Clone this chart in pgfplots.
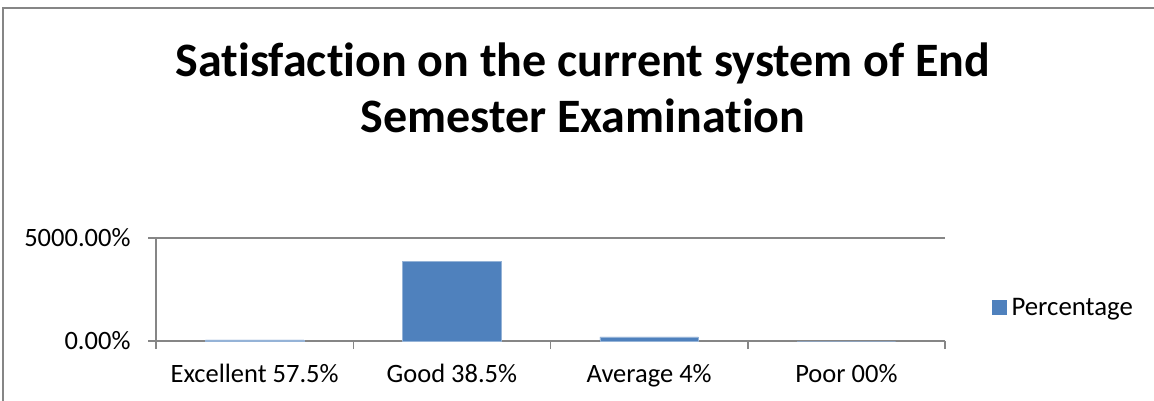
\documentclass[border=0pt]{standalone}
\usepackage{pgfplots}
\pgfplotsset{compat=1.18}
\usepackage{fontspec}
\setmainfont{Carlito}[Ligatures=NoCommon]
\definecolor{barblue}{RGB}{79,129,189}
\definecolor{axgray}{RGB}{134,134,134}
\begin{document}
\begin{tikzpicture}[x=1bp,y=1bp]
\useasboundingbox (0,0) rectangle (1154,400);
\draw[axgray,line width=1.5bp] (3,-10) -- (3,392) -- (1170,392);
\node[anchor=base,inner sep=0pt,font=\fontsize{48bp}{54bp}\selectfont\bfseries] at (583,324) {Satisfaction on the current system of End};
\node[anchor=base,inner sep=0pt,font=\fontsize{48bp}{54bp}\selectfont\bfseries] at (583,268) {Semester Examination};
\begin{axis}[
  at={(156bp,59bp)}, anchor=south west,
  scale only axis, width=789bp, height=103bp,
  xmin=-0.5, xmax=3.5, ymin=0, ymax=5000,
  axis x line=bottom, axis y line=left,
  axis line style={-, axgray, line width=1.5bp},
  tick align=outside, major tick length=8bp,
  every tick/.style={axgray, line width=1.5bp},
  xtick={-0.5,0.5,1.5,2.5,3.5}, xticklabels={},
  extra x ticks={0,1,2,3},
  extra x tick labels={Excellent 57.5\%,Good 38.5\%,Average 4\%,Poor 00\%},
  extra x tick style={major tick length=0pt, grid=none,
     xticklabel style={anchor=base, yshift=-41bp}},
  ytick={0,5000}, yticklabels={0.00\%,5000.00\%},
  ymajorgrids, grid style={axgray, line width=1.5bp},
  ticklabel style={font=\fontsize{26.5bp}{30bp}\selectfont, text=black},
  /pgf/number format/assume math mode=true,
  yticklabel style={xshift=-14bp},
  legend style={at={(1.0595,0.325)}, anchor=west, draw=none, fill=none,
    font=\fontsize{26.8bp}{30bp}\selectfont, inner sep=0pt},
  legend image code/.code={\fill[barblue] (2bp,-7bp) rectangle (16bp,7bp); \path (19bp,0bp);},
]
\addplot[ybar, bar width=0.5, fill=barblue, draw=barblue!60!white] coordinates {(0,57.5) (1,3850) (2,200) (3,0)};
\addlegendentry{Percentage}
\end{axis}
\end{tikzpicture}
\end{document}
